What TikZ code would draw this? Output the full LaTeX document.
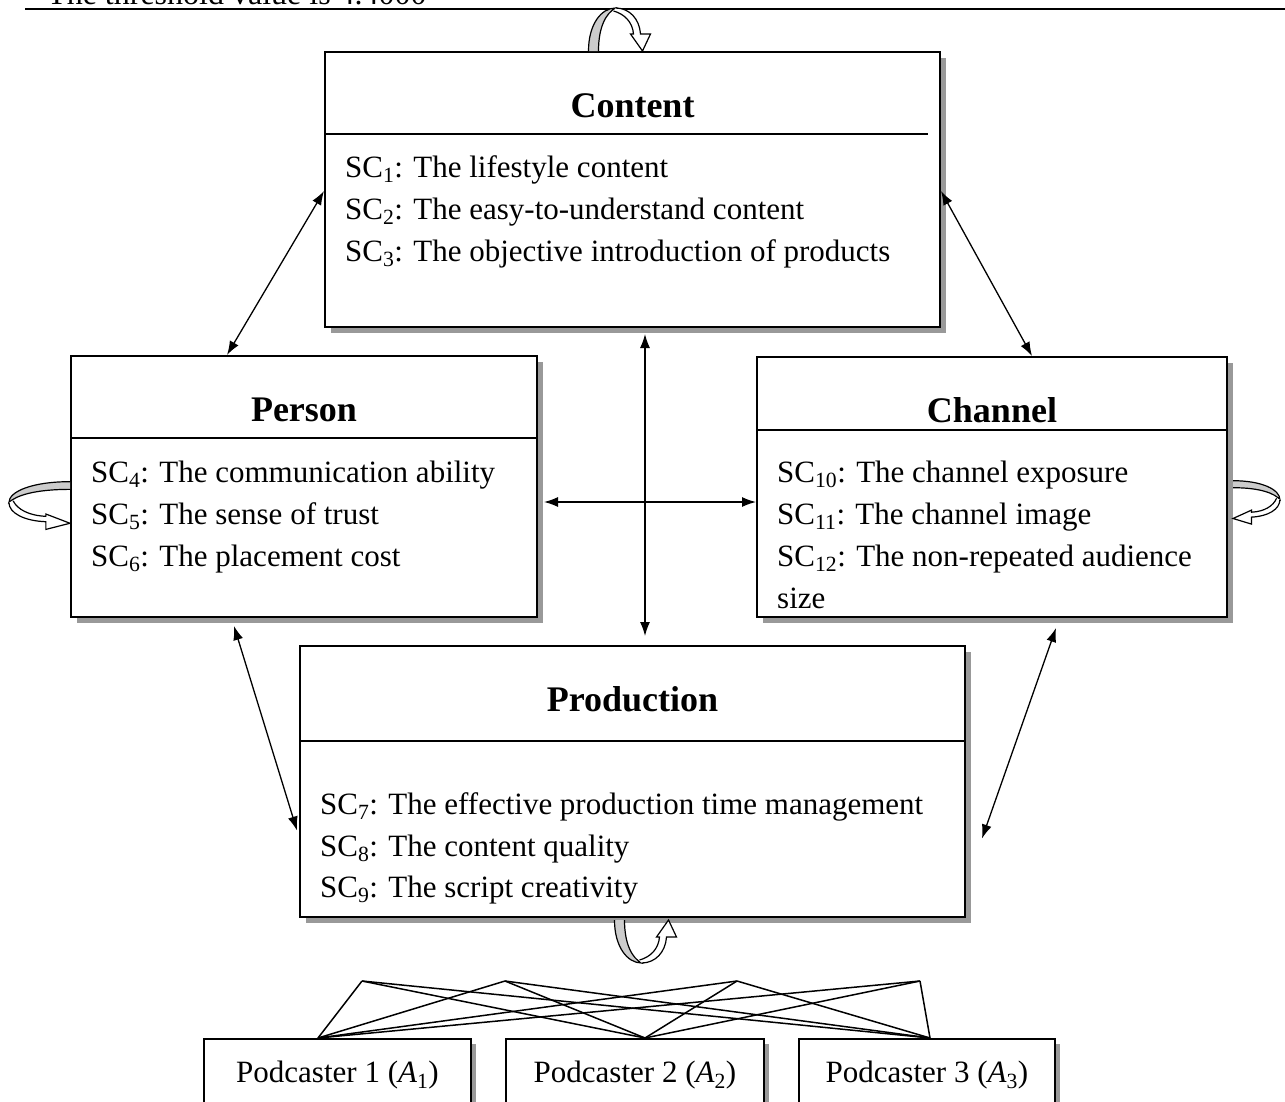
\documentclass[tikz,border=0pt]{standalone}
\usepackage{fontspec}
\setmainfont{Liberation Serif}
\usepackage{tikz}
\usetikzlibrary{arrows.meta,calc,shadows}
\tikzset{
    factor-box/.style = {draw, fill=white, line width=2pt, rectangle, inner sep=0pt, drop shadow={shadow xshift=6pt, shadow yshift=-6pt, fill=gray!80, opacity=1}},
    factor-title/.style = {font=\fontsize{36}{40}\selectfont\bfseries, inner sep=0pt, anchor=base},
    factor-item/.style = {font=\fontsize{31}{36}\selectfont, inner sep=0pt, anchor=base west},
    header-rule/.style = {line width=1.6pt},
    alt-box/.style = {draw, fill=white, line width=1.5pt, rectangle, anchor=north, inner xsep=0pt, inner ysep=20pt, text height=24pt, text depth=30pt, font=\fontsize{31}{36}\selectfont, drop shadow={shadow xshift=5pt, shadow yshift=-5pt, fill=gray!80, opacity=1}},
    both-link/.style = {{Latex[length=14pt,width=10pt]}-{Latex[length=14pt,width=10pt]}, line width=1.3pt},
    fan-line/.style = {line width=1.5pt},
    self-loop/.pic = {
        \filldraw[fill=gray!40, line width=1.2pt] (-29,0) .. controls (-29,-27) and (-16,-43) .. (-2,-43) .. controls (-11,-38) and (-19,-25) .. (-19,0);
        \filldraw[fill=white, line width=1.2pt] (-2,-43) .. controls (12,-43) and (22,-32) .. (23,-17) -- (33,-17) -- (25,0) -- (13,-17) -- (16,-17) .. controls (15,-29) and (7,-37) .. (-4,-40);
    },
}

\begin{document}
\begin{tikzpicture}[x=1pt, y=-1pt]
\useasboundingbox (0,0) rectangle (1285,1101);

\node[anchor=base west, inner sep=0pt, font=\fontsize{32}{36}\selectfont] (threshold) at (47,4) {The threshold value is 4.4000};
\draw[line width=2pt] (25,9) -- (1285,9);

% the four factors
\node[factor-box, minimum width=615pt, minimum height=275pt] (content) at (632.5,189.5) {};
\node[factor-box, minimum width=466pt, minimum height=261pt] (person) at (304,486.5) {};
\node[factor-box, minimum width=470pt, minimum height=260pt] (channel) at (992,487) {};
\node[factor-box, minimum width=665pt, minimum height=271pt] (production) at (632.5,781.5) {};

\node[factor-title] (content-title) at ($(content.north)+(0,66)$) {Content};
\draw[header-rule] ($(content.north west)+(0,83)$) -- ++(604,0);
\node[factor-item] (content-1) at ($(content.north west)+(21,126)$) {SC\textsubscript{1}: The lifestyle content};
\node[factor-item] (content-2) at ($(content.north west)+(21,168)$) {SC\textsubscript{2}: The easy-to-understand content};
\node[factor-item] (content-3) at ($(content.north west)+(21,210)$) {SC\textsubscript{3}: The objective introduction of products};

\node[factor-title] (person-title) at ($(person.north)+(0,66)$) {Person};
\draw[header-rule] ($(person.north west)+(0,83)$) -- ++(468,0);
\node[factor-item] (person-1) at ($(person.north west)+(21,127)$) {SC\textsubscript{4}: The communication ability};
\node[factor-item] (person-2) at ($(person.north west)+(21,169)$) {SC\textsubscript{5}: The sense of trust};
\node[factor-item] (person-3) at ($(person.north west)+(21,211)$) {SC\textsubscript{6}: The placement cost};

\node[factor-title] (channel-title) at ($(channel.north)+(0,66)$) {Channel};
\draw[header-rule] ($(channel.north west)+(0,74)$) -- ++(470,0);
\node[factor-item] (channel-1) at ($(channel.north west)+(21,126)$) {SC\textsubscript{10}: The channel exposure};
\node[factor-item] (channel-2) at ($(channel.north west)+(21,168)$) {SC\textsubscript{11}: The channel image};
\node[factor-item] (channel-3) at ($(channel.north west)+(21,210)$) {SC\textsubscript{12}: The non-repeated audience};
\begin{scope}
    \clip ($(channel.south west)+(0,-10)$) rectangle (channel.north east);
    \node[factor-item] (channel-4) at ($(channel.north west)+(21,252)$) {size};
\end{scope}

\node[factor-title] (production-title) at ($(production.north)+(0,66)$) {Production};
\draw[header-rule] ($(production.north west)+(0,96)$) -- ++(665,0);
\node[factor-item] (production-1) at ($(production.north west)+(21,169)$) {SC\textsubscript{7}: The effective production time management};
\node[factor-item] (production-2) at ($(production.north west)+(21,211)$) {SC\textsubscript{8}: The content quality};
\node[factor-item] (production-3) at ($(production.north west)+(21,252)$) {SC\textsubscript{9}: The script creativity};

% links between factors
\draw[both-link] ($(person.north west)+(157,0)$) -- ($(content.north west)+(0,140)$);
\draw[both-link] ($(content.north east)+(0,140)$) -- ($(channel.north west)+(276,0)$);
\draw[both-link] ($(content.south)+(12.5,6)$) -- ($(production.north)+(12.5,-9)$);
\draw[both-link] ($(person.east)+(6,15.5)$) -- ($(channel.west)+(0,15)$);
\draw[both-link] ($(person.south west)+(164,8)$) -- ($(production.west)+(-2,49)$);
\draw[both-link] ($(channel.south east)+(-172,10)$) -- ($(production.east)+(16,57)$);

% inner dependence loops
\pic at ($(content.north)+(-15,0)$) {self-loop};
\pic[yscale=-1] at ($(production.south)+(11,2)$) {self-loop};
\pic[cm={0,-1,-1,0,(0,0)}, xscale=.77, yscale=1.42] at ($(person.west)+(0,17.5)$) {self-loop};
\pic[rotate=-90, xscale=.7, yscale=1.09] at ($(channel.east)+(5,14)$) {self-loop};

% alternatives
\node[alt-box, minimum width=267pt] (pod1) at (337.5,1038) {Podcaster 1 (\textit{A}\textsubscript{1})};
\node[alt-box, minimum width=258pt] (pod2) at (635,1038) {Podcaster 2 (\textit{A}\textsubscript{2})};
\node[alt-box, minimum width=256pt] (pod3) at (927,1038) {Podcaster 3 (\textit{A}\textsubscript{3})};

\coordinate (top-1) at (362,981);
\coordinate (top-2) at (505,981);
\coordinate (top-3) at (737,981);
\coordinate (top-4) at (920,981);
\coordinate (alt-1) at ($(pod1.north)+(-19.5,0)$);
\coordinate (alt-2) at ($(pod2.north)+(10,0)$);
\coordinate (alt-3) at ($(pod3.north)+(3,0)$);
\foreach \t in {1,...,4}
    \foreach \a in {1,2,3}
        \draw[fan-line] (top-\t) -- (alt-\a);
\end{tikzpicture}
\end{document}
